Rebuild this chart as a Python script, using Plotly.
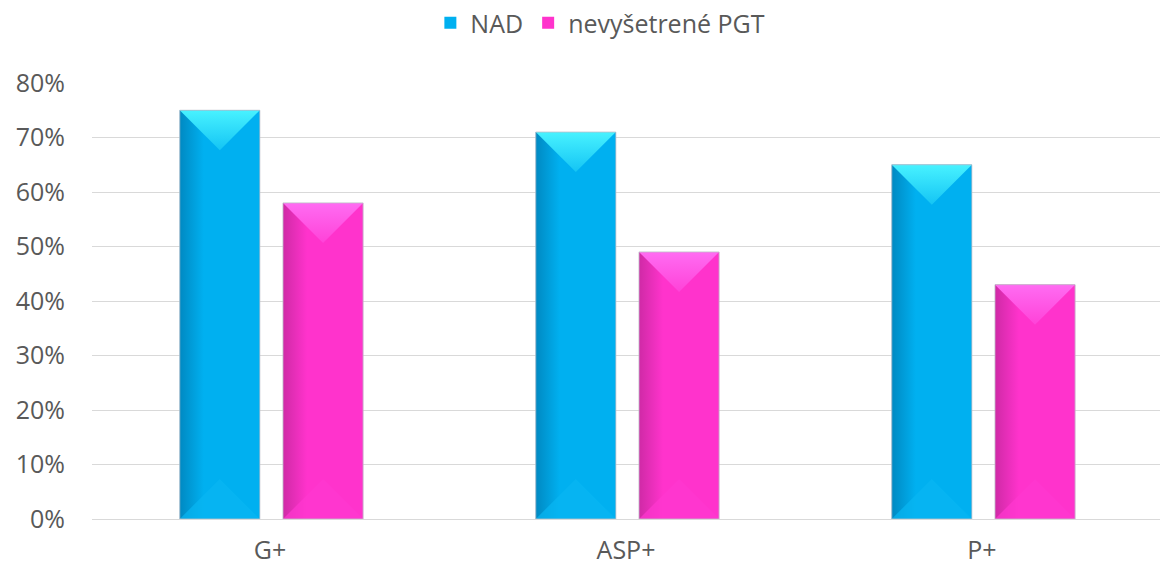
import plotly.graph_objects as go

categories = ["G+", "ASP+", "P+"]
nad = [0.75, 0.71, 0.65]
pgt = [0.58, 0.49, 0.43]
series_names = ["NAD", "nevyšetrené PGT"]
tick_vals = [0, 0.1, 0.2, 0.3, 0.4, 0.5, 0.6, 0.7, 0.8]

W, H = 1162, 567
ML, MR, MT, MB = 92, 2, 83, 48
Y_MAX = 0.8
BAR_W = 0.225
BAR_GAP = 0.065
SHIFT = 0.004

styles = [
    dict(main="#00B0F0", dark="#0089C2", top="#48F2FF", topend="#14C4F4", bottom="#08B6F2"),
    dict(main="#FF33CC", dark="#CF2AA6", top="#FF6CF2", topend="#FF42D8", bottom="#FF38D0"),
]
series = [nad, pgt]
offsets = [-(BAR_GAP / 2 + BAR_W) + SHIFT, BAR_GAP / 2 + SHIFT]

px_per_x = (W - ML - MR) / len(categories)
px_per_y = (H - MT - MB) / Y_MAX
bevel = (BAR_W / 2) * px_per_x / px_per_y

font = "Open Sans, Liberation Sans, sans-serif"
fig = go.Figure()
xs = list(range(len(categories)))

for s, vals in enumerate(series):
    st = styles[s]
    fig.add_trace(go.Bar(x=xs, y=vals, name=series_names[s], width=BAR_W, offset=offsets[s],
                         marker=dict(color=st["main"], line=dict(width=0)),
                         hovertemplate="%{y:.0%}<extra>" + series_names[s] + "</extra>"))

outline_x, outline_y = [], []
for s, vals in enumerate(series):
    st = styles[s]
    for i, v in enumerate(vals):
        x0 = xs[i] + offsets[s]
        x1 = x0 + BAR_W
        xc = (x0 + x1) / 2
        # body with horizontal shading
        fig.add_trace(go.Scatter(
            x=[x0, x1, x1, x0, x0], y=[0, 0, v, v, 0], mode="lines", fill="toself",
            line=dict(width=0), showlegend=False, hoverinfo="skip",
            fillgradient=dict(type="horizontal",
                              colorscale=[[0, st["dark"]], [0.3, st["main"]],
                                          [0.55, st["main"]], [1, st["main"]]])))
        # bottom bevel (subtle)
        fig.add_trace(go.Scatter(
            x=[x0, x1, xc, x0], y=[0, 0, bevel, 0], mode="lines", fill="toself",
            line=dict(width=0), fillcolor=st["bottom"], opacity=0.7,
            showlegend=False, hoverinfo="skip"))
        # top bevel
        fig.add_trace(go.Scatter(
            x=[x0, x1, xc, x0], y=[v, v, v - bevel, v], mode="lines", fill="toself",
            line=dict(width=0), showlegend=False, hoverinfo="skip",
            fillgradient=dict(type="vertical",
                              colorscale=[[0, st["topend"]], [1, st["top"]]])))
        outline_x += [x0, x1, x1, x0, x0, None]
        outline_y += [0, 0, v, v, 0, None]

fig.add_trace(go.Scatter(x=outline_x, y=outline_y, mode="lines",
                         line=dict(color="rgba(190,190,200,0.8)", width=1),
                         showlegend=False, hoverinfo="skip"))

fig.update_layout(
    width=W, height=H,
    margin=dict(l=ML, r=MR, t=MT, b=MB, autoexpand=False),
    paper_bgcolor="white", plot_bgcolor="white",
    barmode="overlay",
    font=dict(family=font, size=25, color="#595959"),
    legend=dict(orientation="h", x=0.476, xanchor="center", y=1 - 23 / H, yanchor="middle",
                yref="container", font=dict(size=25, color="#595959"),
                itemwidth=30, traceorder="normal"),
    showlegend=True,
)
fig.update_yaxes(range=[0, Y_MAX], tickvals=tick_vals, tickformat=".0%", automargin=False,
                 gridcolor="#D9D9D9", gridwidth=1, zeroline=True, zerolinecolor="#D9D9D9",
                 zerolinewidth=1, ticks="", ticklabelstandoff=26, showline=False)
fig.update_xaxes(range=[-0.5, len(categories) - 0.5], tickvals=xs, ticktext=categories,
                 showgrid=False, zeroline=False, ticks="", showline=False,
                 ticklabelstandoff=14, automargin=False)

fig.write_html("out.html", config={"displayModeBar": False},
               post_script="document.body.style.margin='0';document.body.style.overflow='hidden';")
